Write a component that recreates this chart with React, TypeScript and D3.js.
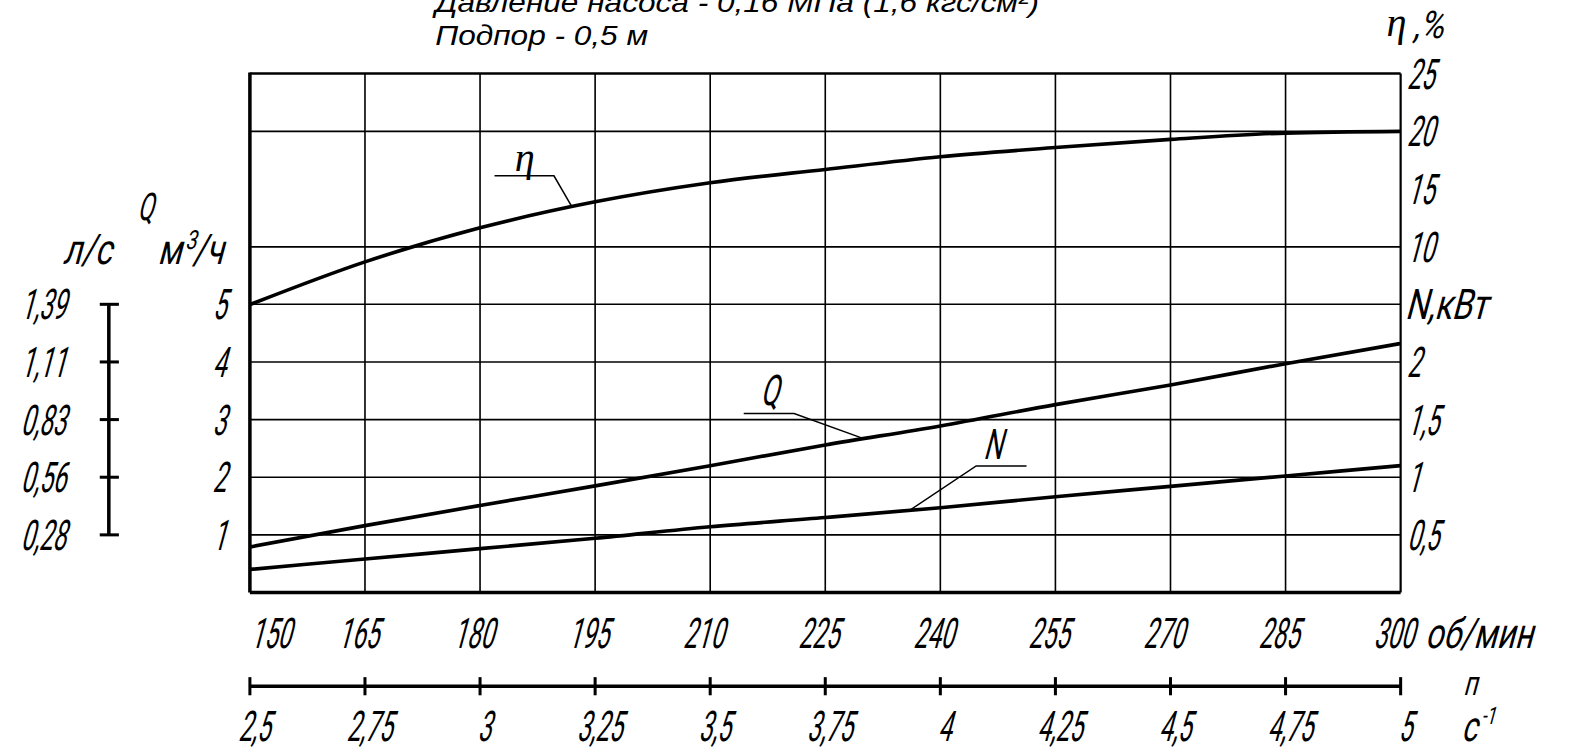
import React from 'react';
import * as d3 from 'd3';

// rotation speed, об/мин
const rpm = [150, 165, 180, 195, 210, 225, 240, 255, 270, 285, 300];
// rotation speed, с^-1 (second scale under the chart)
const rps = ['2,5', '2,75', '3', '3,25', '3,5', '3,75', '4', '4,25', '4,5', '4,75', '5'];

// curves
const eta = [5, 8.7, 11.65, 13.9, 15.55, 16.7, 17.8, 18.6, 19.3, 19.85, 20]; // %
const flow = [0.79, 1.16, 1.51, 1.85, 2.2, 2.56, 2.89, 3.26, 3.6, 3.97, 4.32]; // м3/ч
const power = [0.2, 0.29, 0.38, 0.47, 0.57, 0.65, 0.735, 0.83, 0.92, 1.01, 1.1]; // кВт

const qTicks = [1, 2, 3, 4, 5];
const lsTicks = ['0,28', '0,56', '0,83', '1,11', '1,39'];
const etaTicks = [10, 15, 20, 25];
const etaGrid = [10, 20];
const nTicks = ['0,5', '1', '1,5', '2'];
const nTickValues = [0.5, 1, 1.5, 2];

const W = 1580;
const H = 753;
const K = 1580 / 1568; // drawing was measured on a 1568 wide copy
const L = 248, R = 1390, T = 73, B = 588;

const GOST = "Roboto, 'Noto Sans', 'Liberation Sans', sans-serif";
const DIG = 0.57; // narrow drafting digits
const LET = 0.76; // letters are wider

const Gost = ({ x, y, size = 42, anchor = 'start', sx = DIG, children }: any) => (
  <text
    transform={`translate(${x},${y}) skewX(-15) scale(${sx},1)`}
    textAnchor={anchor}
    fontFamily={GOST}
    fontWeight={400}
    fontSize={size}
    fill="#000"
  >
    {children}
  </text>
);

export default function App() {
  const x = d3.scaleLinear().domain([150, 300]).range([L, R]);
  const yQ = d3.scaleLinear().domain([0, 5]).range([B, 302]);
  const yN = d3.scaleLinear().domain([0, 2]).range([B, 359]);
  const yEta = d3.scaleLinear().domain([10, 25]).range([245, T]);

  const mk = (ys: number[], yScale: d3.ScaleLinear<number, number>) =>
    d3.line<number>()
      .x((_, i) => x(rpm[i]))
      .y((d) => yScale(d))
      .curve(d3.curveMonotoneX)(ys) || '';

  // piecewise lookups, used to hang the leader lines on the curves
  const etaAt = d3.scaleLinear().domain(rpm).range(eta);
  const flowAt = d3.scaleLinear().domain(rpm).range(flow);
  const powerAt = d3.scaleLinear().domain(rpm).range(power);

  const pEta: [number, number] = [x(192), yEta(etaAt(192))];
  const pQ: [number, number] = [x(230), yQ(flowAt(230))];
  const pN: [number, number] = [x(236), yN(powerAt(236))];

  const hLines = [
    ...qTicks.map((q) => yQ(q)),
    ...etaGrid.map((e) => yEta(e)),
  ];

  return (
    <svg width={W} height={H} style={{ position: 'absolute', left: 0, top: 0, background: '#fff' }}>
      <rect x={0} y={0} width={W} height={H} fill="#fff" />
      <g transform={`scale(${K})`}>
        {/* title */}
        <g
          transform="translate(432,0) scale(1.12,1)"
          fontFamily="'Liberation Sans', Arial, sans-serif"
          fontStyle="italic"
          fontSize={28}
          fill="#000"
        >
          <text x={0} y={12}>Давление насоса - 0,16 МПа (1,6 кгс/см²)</text>
          <text x={0} y={45}>Подпор - 0,5 м</text>
        </g>

        {/* grid */}
        <g stroke="#000" strokeWidth={1.6}>
          {rpm.slice(1, -1).map((r) => (
            <line key={'v' + r} x1={x(r)} x2={x(r)} y1={T} y2={B} />
          ))}
          {hLines.map((y, i) => (
            <line key={'h' + i} x1={L} x2={R} y1={y} y2={y} />
          ))}
        </g>

        {/* frame */}
        <g stroke="#000" fill="none">
          <line x1={L} x2={R} y1={T} y2={T} strokeWidth={2.5} />
          <line x1={R} x2={R} y1={T} y2={B} strokeWidth={2.2} />
          <line x1={L} x2={L} y1={T - 1} y2={B} strokeWidth={3.5} />
          <line x1={L} x2={R} y1={B} y2={B} strokeWidth={3.5} />
        </g>

        {/* curves */}
        <g fill="none" stroke="#000" strokeWidth={3.6} strokeLinejoin="round">
          <path d={mk(eta, yEta)} />
          <path d={mk(flow, yQ)} />
          <path d={mk(power, yN)} />
        </g>

        {/* leaders */}
        <g fill="none" stroke="#000" strokeWidth={1.5}>
          <polyline points={`${pEta[0]},${pEta[1]} ${pEta[0] - 18},${pEta[1] - 31} ${pEta[0] - 77},${pEta[1] - 31}`} />
          <polyline points={`${pQ[0]},${pQ[1]} ${pQ[0] - 69},${pQ[1] - 25} ${pQ[0] - 119},${pQ[1] - 25}`} />
          <polyline points={`${pN[0]},${pN[1]} ${pN[0] + 66},${pN[1] - 44} ${pN[0] + 116},${pN[1] - 44}`} />
        </g>
        <text x={pEta[0] - 47} y={pEta[1] - 36} textAnchor="middle" fontFamily="'Liberation Serif', 'DejaVu Serif', serif" fontStyle="italic" fontSize={40}>η</text>
        <Gost x={pQ[0] - 94} y={pQ[1] - 33} anchor="middle" sx={0.62}>Q</Gost>
        <Gost x={pN[0] + 82} y={pN[1] - 51} anchor="middle" sx={0.62}>N</Gost>

        {/* left: Q, м3/ч */}
        {qTicks.map((q) => (
          <Gost key={'q' + q} x={224} y={yQ(q) + 15} anchor="end">{q}</Gost>
        ))}
        <Gost x={136} y={218} size={38} sx={0.6}>Q</Gost>
        <Gost x={156} y={262} sx={LET}>м<tspan dy={-15} fontSize={26}>3</tspan><tspan dy={15}>/ч</tspan></Gost>

        {/* left: л/с scale */}
        <g stroke="#000">
          <line x1={108} x2={108} y1={yQ(1)} y2={yQ(5)} strokeWidth={3.5} />
          {qTicks.map((q) => (
            <line key={'lt' + q} x1={99} x2={118} y1={yQ(q)} y2={yQ(q)} strokeWidth={3} />
          ))}
        </g>
        {lsTicks.map((t, i) => (
          <Gost key={'ls' + t} x={20} y={yQ(qTicks[i]) + 15}>{t}</Gost>
        ))}
        <Gost x={62} y={262} sx={LET}>л/с</Gost>

        {/* right: η and N */}
        {etaTicks.map((e) => (
          <Gost key={'e' + e} x={1396} y={yEta(e) + 15}>{e}</Gost>
        ))}
        <Gost x={1394} y={yQ(5) + 15} sx={LET}>N,кВт</Gost>
        {nTicks.map((t, i) => (
          <Gost key={'n' + t} x={1396} y={yN(nTickValues[i]) + 15}>{t}</Gost>
        ))}
        <text x={1376} y={36} fontFamily="'Liberation Serif', 'DejaVu Serif', serif" fontStyle="italic" fontSize={40}>η</text>
        <Gost x={1402} y={38} size={38} sx={0.85}>,%</Gost>

        {/* bottom: об/мин */}
        {rpm.map((r, i) => (
          <Gost key={'r' + r} x={i === 0 ? x(r) : x(r) - 7} y={643} anchor={i === 0 ? 'start' : 'middle'}>{r}</Gost>
        ))}
        <Gost x={1414} y={643} sx={0.74}>об/мин</Gost>

        {/* bottom: с^-1 scale */}
        <g stroke="#000">
          <line x1={L} x2={R} y1={681} y2={681} strokeWidth={3.5} />
          {rpm.map((r) => (
            <line key={'st' + r} x1={x(r)} x2={x(r)} y1={672} y2={690} strokeWidth={3} />
          ))}
        </g>
        {rps.map((t, i) => (
          <Gost key={'s' + t} x={x(rpm[i]) + 4} y={735} anchor="middle">{t}</Gost>
        ))}
        <Gost x={1452} y={690} size={34} sx={0.7}>п</Gost>
        <Gost x={1450} y={735} sx={0.7}>с<tspan dy={-17} fontSize={24}>-1</tspan></Gost>
      </g>
    </svg>
  );
}
